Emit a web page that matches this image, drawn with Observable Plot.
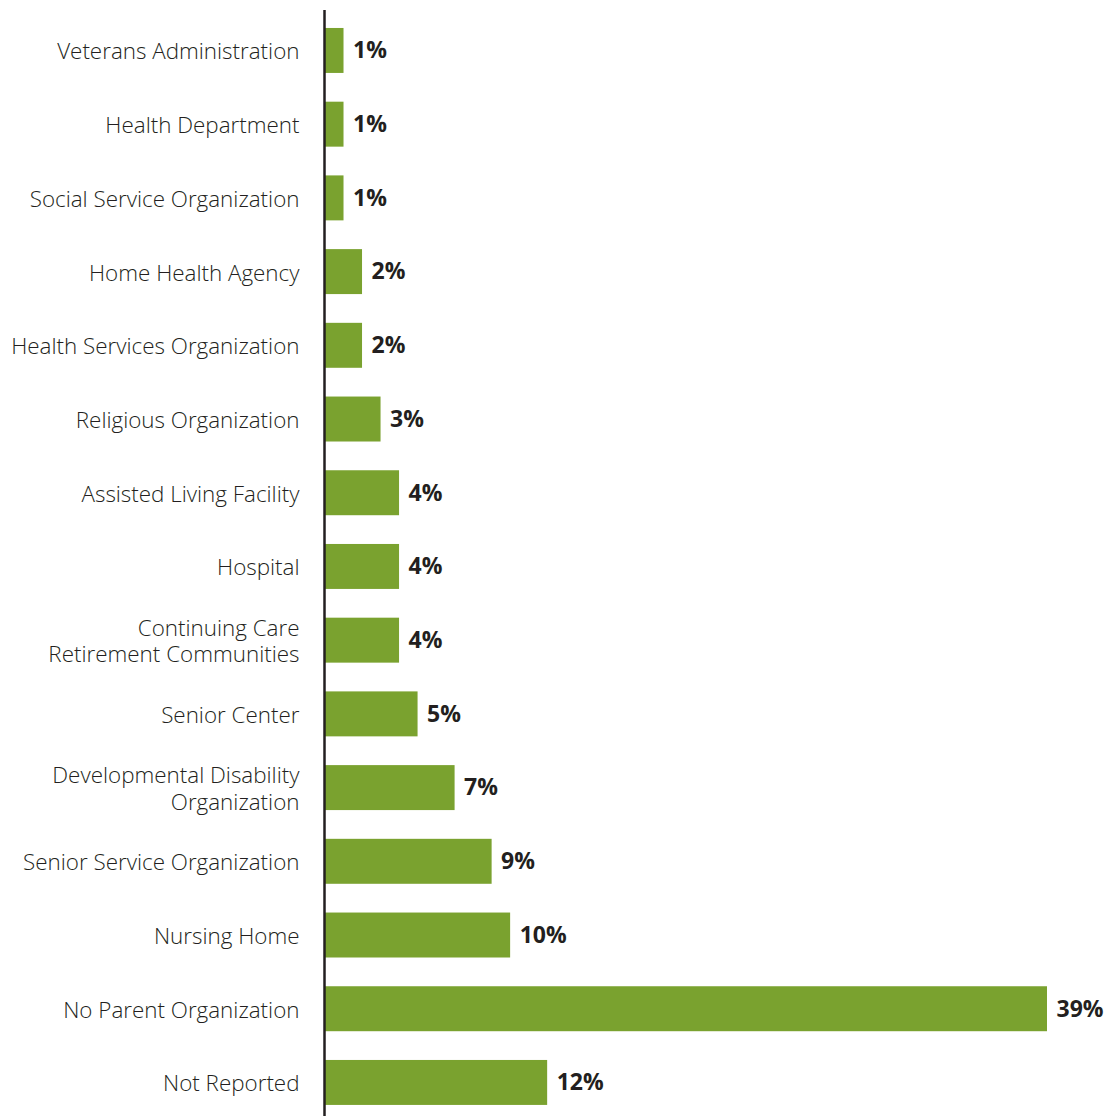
<!DOCTYPE html>
<html>
<head>
<meta charset="utf-8">
<script src="https://cdn.jsdelivr.net/npm/d3@7"></script>
<script src="https://cdn.jsdelivr.net/npm/@observablehq/plot@0.6"></script>
<style>
  html, body { margin: 0; padding: 0; background: #fff; }
  svg { display: block; }
</style>
</head>
<body>
<div id="chart"></div>
<script>
const categories = [
  "Veterans Administration",
  "Health Department",
  "Social Service Organization",
  "Home Health Agency",
  "Health Services Organization",
  "Religious Organization",
  "Assisted Living Facility",
  "Hospital",
  "Continuing Care\nRetirement Communities",
  "Senior Center",
  "Developmental Disability\nOrganization",
  "Senior Service Organization",
  "Nursing Home",
  "No Parent Organization",
  "Not Reported"
];
const values = [1, 1, 1, 2, 2, 3, 4, 4, 4, 5, 7, 9, 10, 39, 12];

const data = categories.map((c, i) => ({category: c, value: values[i]}));

const chart = Plot.plot({
  width: 1118,
  height: 1116,
  marginLeft: 325,
  marginRight: 71,
  marginTop: 10,
  marginBottom: 0,
  style: {fontFamily: "'Open Sans', sans-serif", color: "#231f20", background: "#fff"},
  x: {domain: [0, 39], axis: null},
  y: {domain: categories, range: [13.6, 1119.3], round: false, paddingInner: 0.39, paddingOuter: 0.195, label: null},
  marks: [
    Plot.barX(data, {y: "category", x: "value", fill: "#7aa22f"}),
    Plot.axisY({tickSize: 0, tickPadding: 26, fontSize: 22.4, lineHeight: 1.18, fill: "#231f20", fontWeight: 300, label: null}),
    Plot.text(data, {y: "category", x: "value", text: d => d.value + "%", textAnchor: "start", dx: 9, fontSize: 23, fontWeight: "bold", fill: "#231f20"}),
    Plot.ruleX([0], {stroke: "#231f20", strokeWidth: 2.5, dx: -1})
  ]
});
document.getElementById("chart").appendChild(chart);
</script>
</body>
</html>
